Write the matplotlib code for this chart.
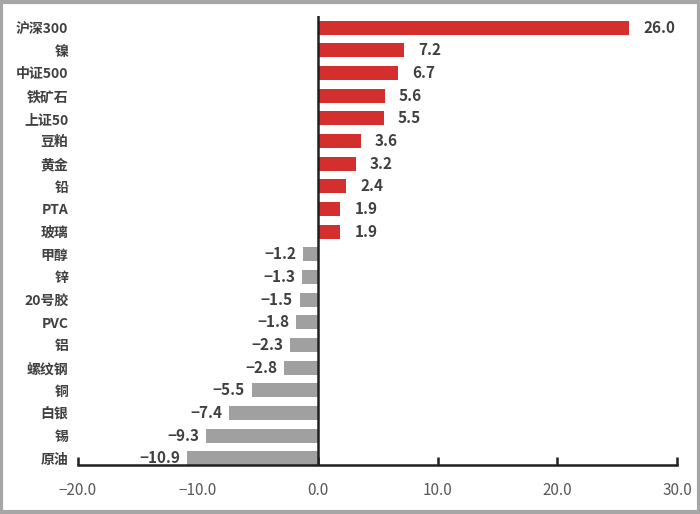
import numpy as np
import matplotlib.pyplot as plt
from matplotlib.patches import Rectangle

plt.rcParams['font.family'] = ['Noto Sans CJK SC', 'DejaVu Sans']

# data, top to bottom
categories = ['沪深300', '镍', '中证500', '铁矿石', '上证50', '豆粕', '黄金', '铅', 'PTA', '玻璃',
              '甲醇', '锌', '20号胶', 'PVC', '铝', '螺纹钢', '铜', '白银', '锡', '原油']
values = [26.0, 7.2, 6.7, 5.6, 5.5, 3.6, 3.2, 2.4, 1.9, 1.9,
          -1.2, -1.3, -1.5, -1.8, -2.3, -2.8, -5.5, -7.4, -9.3, -10.9]
xticks = [-20, -10, 0, 10, 20, 30]

red = '#d32f2f'
grey = '#a0a0a0'
text_col = '#404040'

fig = plt.figure(figsize=(7, 5.14), dpi=100)
ax = fig.add_axes([0.1114, 0.0953, 0.856, 0.8743])

y = np.arange(len(categories))
colors = [red if v > 0 else grey for v in values]
ax.barh(y, values, height=0.62, color=colors, zorder=2)

for yi, v in zip(y, values):
    if v > 0:
        ax.annotate(f'{v:.1f}', (v, yi), xytext=(10, 0), textcoords='offset points',
                    ha='left', va='center', fontsize=11, color=text_col, fontweight='bold')
    else:
        ax.annotate(f'{v:.1f}'.replace('-', '\u2212'), (v, yi), xytext=(-5, 0),
                    textcoords='offset points', ha='right', va='center', fontsize=11,
                    color=text_col, fontweight='bold')

ax.set_xlim(-20, 30)
ax.set_ylim(19.3, -0.53)
ax.axvline(0, color='#202020', lw=1.8, zorder=3)

ax.set_yticks(y)
ax.set_yticklabels(categories, fontsize=10, color=text_col, fontweight='bold')
ax.tick_params(axis='y', length=0, pad=7)

ax.set_xticks(xticks)
ax.set_xticklabels([f'{t:.1f}'.replace('-', '\u2212') for t in xticks], fontsize=11, color='#595959')
ax.tick_params(axis='x', direction='in', length=6, width=1.8, color='#202020', pad=12)

for s in ['top', 'right', 'left']:
    ax.spines[s].set_visible(False)
ax.spines['bottom'].set_linewidth(1.8)
ax.spines['bottom'].set_color('#202020')

# grey frame around the figure
fig.patches.append(Rectangle((0.002, 0.003), 0.996, 0.994, transform=fig.transFigure,
                             fill=False, edgecolor='#a6a6a6', lw=3))

fig.savefig('out.png', dpi=100)
